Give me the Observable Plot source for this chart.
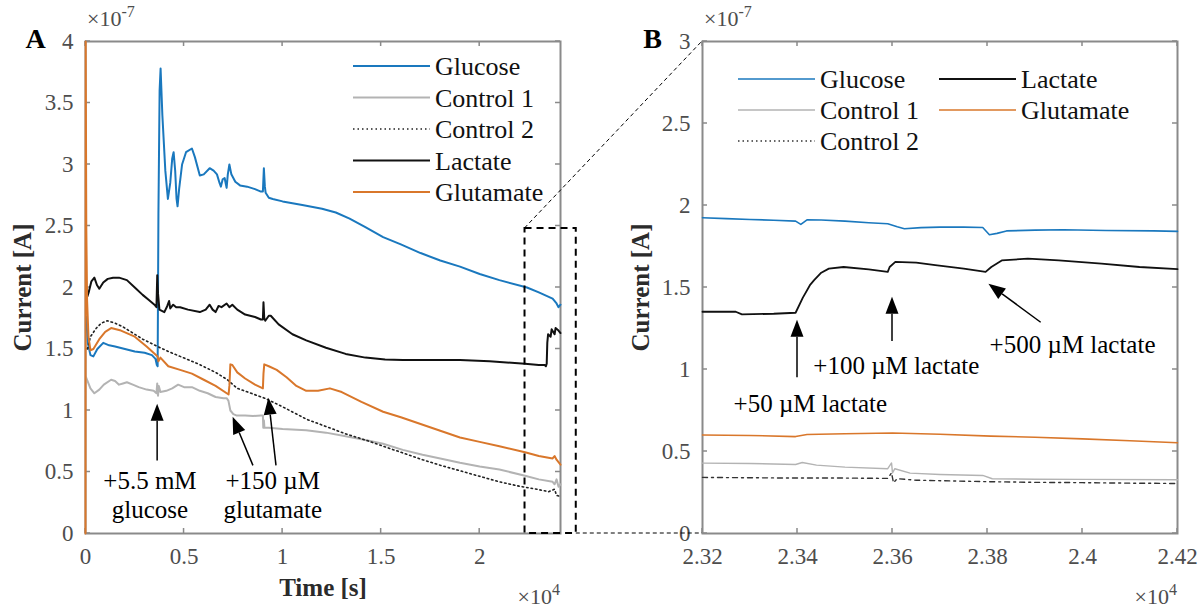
<!DOCTYPE html>
<html><head><meta charset="utf-8">
<script src="https://cdn.jsdelivr.net/npm/d3@7"></script>
<script src="https://cdn.jsdelivr.net/npm/@observablehq/plot@0.6"></script>
<style>
html,body{margin:0;padding:0;background:#fff;}
#wrap{position:relative;width:1199px;height:611px;overflow:hidden;background:#fff;}
#wrap > svg{position:absolute;top:0;}
#wrap svg text{font-family:"Liberation Serif",serif;}
</style></head><body><div id="wrap"></div>
<script>
// ---------- DATA (time in ×10^4 s, current in ×10^-7 A) ----------
const seriesNames = ["Glucose", "Control 1", "Control 2", "Lactate", "Glutamate"];

const glucoseA = [[0.003,1.76],[0.012,1.55],[0.025,1.45],[0.04,1.44],[0.06,1.5],[0.09,1.55],[0.12,1.53],[0.15,1.52],[0.2,1.5],[0.25,1.48],[0.3,1.47],[0.337,1.45],[0.355,1.42],[0.362,1.37],[0.366,1.36],[0.37,2.6],[0.376,3.6],[0.381,3.78],[0.39,3.4],[0.405,2.95],[0.418,2.72],[0.43,2.85],[0.44,3.05],[0.447,3.10],[0.455,2.95],[0.462,2.72],[0.467,2.66],[0.475,2.8],[0.49,3.0],[0.51,3.1],[0.54,3.13],[0.555,3.06],[0.58,2.91],[0.6,2.92],[0.63,2.97],[0.65,2.95],[0.667,2.92],[0.68,2.85],[0.687,2.82],[0.696,2.88],[0.706,2.89],[0.712,2.84],[0.716,2.81],[0.722,2.92],[0.73,3.0],[0.74,2.92],[0.76,2.86],[0.784,2.83],[0.82,2.82],[0.86,2.8],[0.89,2.78],[0.9,2.78],[0.905,2.97],[0.91,2.82],[0.914,2.77],[0.93,2.73],[0.95,2.72],[1.0,2.70],[1.1,2.67],[1.2,2.64],[1.27,2.61],[1.34,2.56],[1.42,2.49],[1.51,2.41],[1.6,2.35],[1.7,2.28],[1.8,2.22],[1.9,2.17],[2.0,2.11],[2.1,2.06],[2.24,2.0],[2.3,1.96],[2.37,1.91],[2.39,1.87],[2.4,1.84],[2.41,1.86]];
const control1A = [[0.003,1.27],[0.01,1.24],[0.025,1.18],[0.045,1.14],[0.07,1.17],[0.093,1.21],[0.13,1.25],[0.15,1.24],[0.17,1.21],[0.19,1.22],[0.21,1.23],[0.24,1.21],[0.27,1.19],[0.31,1.17],[0.346,1.16],[0.36,1.14],[0.364,1.22],[0.368,1.12],[0.372,1.2],[0.38,1.15],[0.41,1.16],[0.44,1.18],[0.47,1.21],[0.5,1.19],[0.54,1.19],[0.58,1.16],[0.62,1.14],[0.66,1.11],[0.7,1.1],[0.716,1.1],[0.725,1.08],[0.735,1.0],[0.75,0.97],[0.765,0.96],[0.81,0.96],[0.85,0.955],[0.89,0.96],[0.9,0.96],[0.902,0.86],[0.905,0.92],[0.908,0.86],[0.93,0.86],[1.0,0.85],[1.12,0.84],[1.22,0.82],[1.32,0.79],[1.42,0.76],[1.51,0.73],[1.61,0.68],[1.71,0.64],[1.8,0.61],[1.9,0.575],[2.0,0.545],[2.1,0.52],[2.23,0.47],[2.3,0.44],[2.37,0.42],[2.38,0.40],[2.39,0.44],[2.4,0.38],[2.41,0.4]];
const control2A = [[0.01,1.5],[0.025,1.6],[0.055,1.67],[0.08,1.71],[0.11,1.73],[0.15,1.71],[0.19,1.68],[0.24,1.63],[0.29,1.58],[0.366,1.52],[0.42,1.48],[0.48,1.44],[0.57,1.38],[0.66,1.31],[0.72,1.25],[0.77,1.18],[0.84,1.14],[0.91,1.10],[1.0,1.03],[1.12,0.93],[1.22,0.87],[1.32,0.81],[1.42,0.76],[1.51,0.71],[1.61,0.655],[1.71,0.60],[1.8,0.555],[1.9,0.51],[2.0,0.465],[2.1,0.42],[2.2,0.385],[2.29,0.36],[2.35,0.34],[2.38,0.36],[2.39,0.31],[2.41,0.30]];
const lactateA = [[0.003,2.0],[0.01,1.93],[0.016,1.96],[0.03,2.05],[0.045,2.08],[0.058,2.02],[0.07,1.99],[0.09,2.04],[0.113,2.07],[0.14,2.08],[0.17,2.08],[0.21,2.06],[0.25,2.0],[0.29,1.94],[0.32,1.9],[0.35,1.86],[0.36,1.84],[0.364,2.1],[0.368,1.95],[0.375,1.82],[0.4,1.8],[0.415,1.85],[0.424,1.89],[0.43,1.83],[0.445,1.86],[0.46,1.84],[0.48,1.84],[0.52,1.82],[0.58,1.80],[0.61,1.82],[0.63,1.86],[0.645,1.82],[0.66,1.80],[0.675,1.85],[0.69,1.84],[0.716,1.87],[0.73,1.84],[0.745,1.86],[0.77,1.82],[0.81,1.78],[0.86,1.76],[0.89,1.74],[0.9,1.74],[0.903,1.88],[0.907,1.75],[0.912,1.73],[0.93,1.77],[0.94,1.77],[0.98,1.70],[1.05,1.62],[1.12,1.57],[1.22,1.51],[1.32,1.46],[1.42,1.43],[1.52,1.415],[1.61,1.41],[1.75,1.41],[1.9,1.41],[2.05,1.40],[2.23,1.38],[2.3,1.37],[2.33,1.37],[2.336,1.36],[2.34,1.38],[2.343,1.55],[2.347,1.62],[2.36,1.60],[2.365,1.66],[2.38,1.62],[2.385,1.67],[2.4,1.65],[2.41,1.63]];
const glutamateA = [[0,0],[0.001,4.0],[0.004,2.5],[0.008,1.9],[0.015,1.6],[0.025,1.49],[0.04,1.5],[0.07,1.58],[0.1,1.64],[0.13,1.67],[0.18,1.65],[0.25,1.60],[0.31,1.52],[0.366,1.44],[0.37,1.40],[0.38,1.43],[0.42,1.36],[0.48,1.33],[0.54,1.30],[0.6,1.25],[0.66,1.2],[0.726,1.13],[0.73,1.2],[0.735,1.375],[0.745,1.37],[0.77,1.31],[0.81,1.26],[0.86,1.21],[0.90,1.18],[0.903,1.3],[0.907,1.375],[0.93,1.36],[0.97,1.33],[1.02,1.27],[1.07,1.2],[1.12,1.16],[1.18,1.16],[1.24,1.18],[1.3,1.15],[1.4,1.07],[1.51,0.99],[1.6,0.945],[1.7,0.89],[1.8,0.835],[1.9,0.78],[2.0,0.745],[2.1,0.71],[2.23,0.66],[2.3,0.63],[2.37,0.61],[2.38,0.63],[2.39,0.6],[2.41,0.56]];

const glucoseB = [[2.32,1.925],[2.325,1.92],[2.33,1.915],[2.335,1.91],[2.3396,1.905],[2.3407,1.885],[2.342,1.913],[2.345,1.912],[2.35,1.905],[2.355,1.895],[2.359,1.889],[2.361,1.87],[2.3625,1.858],[2.366,1.865],[2.37,1.868],[2.375,1.868],[2.379,1.866],[2.3804,1.822],[2.382,1.83],[2.384,1.845],[2.39,1.85],[2.396,1.852],[2.405,1.848],[2.415,1.845],[2.42,1.842]];
const control1B = [[2.32,0.429],[2.33,0.427],[2.3396,0.421],[2.341,0.433],[2.344,0.417],[2.35,0.405],[2.359,0.395],[2.3598,0.43],[2.360,0.37],[2.3605,0.395],[2.3637,0.368],[2.37,0.36],[2.379,0.354],[2.381,0.334],[2.39,0.331],[2.40,0.33],[2.42,0.328]];
const control2B = [[2.32,0.342],[2.33,0.340],[2.34,0.338],[2.35,0.338],[2.359,0.336],[2.3598,0.37],[2.3602,0.31],[2.361,0.334],[2.365,0.325],[2.37,0.322],[2.38,0.316],[2.39,0.312],[2.40,0.31],[2.41,0.307],[2.42,0.305]];
const lactateB = [[2.32,1.352],[2.327,1.352],[2.3283,1.336],[2.335,1.34],[2.3396,1.346],[2.3411,1.437],[2.3427,1.518],[2.3435,1.545],[2.345,1.59],[2.3466,1.615],[2.3497,1.625],[2.355,1.61],[2.359,1.595],[2.3594,1.625],[2.3606,1.656],[2.365,1.652],[2.369,1.636],[2.375,1.615],[2.3796,1.595],[2.3808,1.625],[2.383,1.665],[2.3885,1.676],[2.395,1.665],[2.404,1.645],[2.412,1.625],[2.42,1.612]];
const glutamateB = [[2.32,0.601],[2.33,0.598],[2.3396,0.591],[2.342,0.604],[2.35,0.608],[2.36,0.613],[2.37,0.605],[2.3807,0.594],[2.39,0.587],[2.40,0.577],[2.41,0.566],[2.42,0.553]];

const xTicksA = [0, 0.5, 1, 1.5, 2];
const yTicksA = [0, 0.5, 1, 1.5, 2, 2.5, 3, 3.5, 4];
const xTicksB = [2.32, 2.34, 2.36, 2.38, 2.4, 2.42];
const yTicksB = [0, 0.5, 1, 1.5, 2, 2.5, 3];

const notesA = [{t:0.327, i:0.425, label:"+5.5 mM"}, {t:0.327, i:0.19, label:"glucose"}, {t:0.95, i:0.425, label:"+150 µM"}, {t:0.95, i:0.19, label:"glutamate"}];
const arrowsA = [{x1:0.366, y1:0.59, x2:0.366, y2:1.05}, {x1:0.852, y1:0.55, x2:0.749, y2:0.945}, {x1:0.969, y1:0.55, x2:0.93, y2:1.10}];
const notesB = [{t:2.3427, i:0.79, label:"+50 µM lactate"}, {t:2.3608, i:1.02, label:"+100 µM lactate"}, {t:2.3979, i:1.15, label:"+500 µM lactate"}];
const arrowsB = [{x1:2.34, y1:0.95, x2:2.34, y2:1.30}, {x1:2.36, y1:1.17, x2:2.36, y2:1.44}, {x1:2.3913, y1:1.285, x2:2.3803, y2:1.52}];
const zoomBox = [{x1:2.23, x2:2.49, y1:0, y2:2.48}];

// ---------- STYLES ----------
const serif = "Liberation Serif";
const frameColor = "#8a8a8a", tickColor = "#4d4d4d", labelColor = "#2b2b2b";
const stylesA = {
  "Glucose": {color:"#1a78be", width:2, dash:null},
  "Control 1": {color:"#b3b3b3", width:2, dash:null},
  "Control 2": {color:"#222", width:1.6, dash:"1.5,3"},
  "Lactate": {color:"#111", width:2, dash:null},
  "Glutamate": {color:"#d9772b", width:2, dash:null}
};
const stylesB = {
  "Glucose": {color:"#1a78be", width:1.6, dash:null},
  "Control 1": {color:"#b3b3b3", width:1.4, dash:null},
  "Control 2": {color:"#333", width:1.4, dash:"5,4,2,4"},
  "Lactate": {color:"#111", width:1.8, dash:null},
  "Glutamate": {color:"#d9772b", width:1.6, dash:null}
};
const legendStylesB = {...stylesB, "Control 2": {color:"#333", width:1.4, dash:"1.5,3"}};

function lineMarks(series, styles) {
  return seriesNames.map(n => Plot.line(series[n].map(([t, i]) => ({t, i})), {
    x: "t", y: "i", stroke: styles[n].color, strokeWidth: styles[n].width,
    strokeDasharray: styles[n].dash || undefined, strokeLinejoin: "round"
  }));
}

function innerTicks(xt, yt, len) {
  return (index, scales, values, dim) => {
    const {width, height, marginTop, marginRight, marginBottom, marginLeft} = dim;
    const g = d3.create("svg:g").attr("stroke", frameColor).attr("stroke-width", 1.5);
    const top = marginTop, bot = height - marginBottom, l = marginLeft, r = width - marginRight;
    for (const t of xt) {
      const px = scales.x(t);
      g.append("line").attr("x1", px).attr("x2", px).attr("y1", bot).attr("y2", bot - len);
      g.append("line").attr("x1", px).attr("x2", px).attr("y1", top).attr("y2", top + len);
    }
    for (const v of yt) {
      const py = scales.y(v);
      g.append("line").attr("y1", py).attr("y2", py).attr("x1", l).attr("x2", l + len);
      g.append("line").attr("y1", py).attr("y2", py).attr("x1", r).attr("x2", r - len);
    }
    return g.node();
  };
}

function filledArrows(list, headLen = 17, headHalf = 6.5) {
  return (index, scales) => {
    const g = d3.create("svg:g");
    for (const a of list) {
      const x1 = scales.x(a.x1), y1 = scales.y(a.y1), x2 = scales.x(a.x2), y2 = scales.y(a.y2);
      const L = Math.hypot(x2 - x1, y2 - y1), ux = (x2 - x1) / L, uy = (y2 - y1) / L;
      const bx = x2 - ux * headLen, by = y2 - uy * headLen;
      g.append("line").attr("x1", x1).attr("y1", y1).attr("x2", bx).attr("y2", by)
        .attr("stroke", "#000").attr("stroke-width", 1.5);
      g.append("path").attr("fill", "#000")
        .attr("d", `M${x2},${y2}L${bx - uy * headHalf},${by + ux * headHalf}L${bx + uy * headHalf},${by - ux * headHalf}Z`);
    }
    return g.node();
  };
}

function legendMark(styles, cfg) {
  return (index, scales, values, dim) => {
    const g = d3.create("svg:g").attr("font-family", serif).attr("font-size", 26).attr("text-anchor", "start");
    const left = cfg.anchor === "right" ? dim.width - dim.marginRight + cfg.dx : dim.marginLeft + cfg.dx;
    const top = dim.marginTop + cfg.dy;
    seriesNames.forEach((n, k) => {
      const col = Math.floor(k / cfg.rows), row = k % cfg.rows;
      const x = left + col * cfg.colStep, y = top + row * cfg.rowStep;
      const s = styles[n];
      g.append("line").attr("x1", x).attr("x2", x + cfg.lineLen).attr("y1", y).attr("y2", y)
        .attr("stroke", s.color).attr("stroke-width", s.width).attr("stroke-dasharray", s.dash);
      g.append("text").attr("x", x + cfg.lineLen + 5).attr("y", y).attr("dy", "0.35em")
        .attr("text-anchor", "start").attr("fill", "#111").text(n);
    });
    return g.node();
  };
}

function expLabel(base, exp, where) {
  return (index, scales, values, dim) => {
    const t = d3.create("svg:text").attr("font-family", serif).attr("font-size", 22).attr("fill", tickColor);
    if (where === "top") {
      t.attr("x", dim.marginLeft + 2).attr("y", dim.marginTop - 15).attr("text-anchor", "start");
    } else {
      t.attr("x", dim.width - dim.marginRight).attr("y", dim.height - dim.marginBottom + 71).attr("text-anchor", "end");
    }
    t.append("tspan").text(base);
    t.append("tspan").attr("dy", -9).attr("font-size", 16).text(exp);
    return t.node();
  };
}

const fmt = d => String(d);

const plotA = Plot.plot({
  width: 600, height: 611,
  marginLeft: 85, marginRight: 40, marginTop: 41, marginBottom: 78,
  style: {fontFamily: serif, fontSize: "23px", background: "transparent", overflow: "visible"},
  x: {domain: [0, 2.41]},
  y: {domain: [0, 4]},
  marks: [
    Plot.frame({stroke: frameColor, strokeWidth: 2}),
    innerTicks(xTicksA, yTicksA, 5),
    Plot.axisX({anchor: "bottom", ticks: xTicksA, tickSize: 0, tickPadding: 14, fontSize: 23, fontVariant: "normal", fill: tickColor, label: null, tickFormat: fmt}),
    Plot.axisY({anchor: "left", ticks: yTicksA, tickSize: 0, tickPadding: 12, fontSize: 23, fontVariant: "normal", fill: tickColor, label: null, tickFormat: fmt}),
    ...lineMarks({"Glucose": glucoseA, "Control 1": control1A, "Control 2": control2A, "Lactate": lactateA, "Glutamate": glutamateA}, stylesA),
    Plot.rect(zoomBox, {x1: "x1", x2: "x2", y1: "y1", y2: "y2", fill: "none", stroke: "#000", strokeWidth: 2, strokeDasharray: "7,5"}),
    Plot.text(notesA, {x: "t", y: "i", text: "label", fontSize: 25, fill: "#000", fontFamily: serif}),
    filledArrows(arrowsA),
    legendMark(stylesA, {anchor: "right", dx: -207, dy: 25, rows: 5, rowStep: 31.5, colStep: 0, lineLen: 77}),
    Plot.text(["Time [s]"], {text: d => d, frameAnchor: "bottom", dy: 62, fontSize: 25, fontWeight: "bold", fill: labelColor}),
    Plot.text(["Current [A]"], {text: d => d, frameAnchor: "left", dx: -63, rotate: -90, textAnchor: "middle", fontSize: 25, fontWeight: "bold", fill: labelColor}),
    Plot.text(["A"], {text: d => d, frameAnchor: "top-left", dx: -50, dy: -13, textAnchor: "middle", fontSize: 28, fontWeight: "bold", fill: "#000"}),
    expLabel("×10", "-7", "top"),
    expLabel("×10", "4", "bottom")
  ]
});

const plotB = Plot.plot({
  width: 599, height: 611,
  marginLeft: 102, marginRight: 22, marginTop: 41, marginBottom: 78,
  style: {fontFamily: serif, fontSize: "23px", background: "transparent", overflow: "visible"},
  x: {domain: [2.32, 2.42]},
  y: {domain: [0, 3]},
  marks: [
    Plot.frame({stroke: frameColor, strokeWidth: 2}),
    innerTicks(xTicksB, yTicksB, 5),
    Plot.axisX({anchor: "bottom", ticks: xTicksB, tickSize: 0, tickPadding: 14, fontSize: 23, fontVariant: "normal", fill: tickColor, label: null, tickFormat: fmt}),
    Plot.axisY({anchor: "left", ticks: yTicksB, tickSize: 0, tickPadding: 12, fontSize: 23, fontVariant: "normal", fill: tickColor, label: null, tickFormat: fmt}),
    ...lineMarks({"Glucose": glucoseB, "Control 1": control1B, "Control 2": control2B, "Lactate": lactateB, "Glutamate": glutamateB}, stylesB),
    Plot.text(notesB, {x: "t", y: "i", text: "label", fontSize: 25, fill: "#000", fontFamily: serif}),
    filledArrows(arrowsB),
    legendMark(legendStylesB, {anchor: "left", dx: 36, dy: 38, rows: 3, rowStep: 31, colStep: 201, lineLen: 77}),
    Plot.text(["Current [A]"], {text: d => d, frameAnchor: "left", dx: -62, rotate: -90, textAnchor: "middle", fontSize: 25, fontWeight: "bold", fill: labelColor}),
    Plot.text(["B"], {text: d => d, frameAnchor: "top-left", dx: -50, dy: -13, textAnchor: "middle", fontSize: 28, fontWeight: "bold", fill: "#000"}),
    expLabel("×10", "-7", "top"),
    expLabel("×10", "4", "bottom")
  ]
});

const wrap = document.getElementById("wrap");
plotA.style.left = "0px";
plotB.style.left = "600px";
wrap.appendChild(plotA);
wrap.appendChild(plotB);

// connector lines between zoom box (panel A) and panel B, positioned through both plots' scales
const sxA = plotA.scale("x"), syA = plotA.scale("y"), sxB = plotB.scale("x"), syB = plotB.scale("y");
const fxA = d3.scaleLinear(sxA.domain, sxA.range), fyA = d3.scaleLinear(syA.domain, syA.range);
const fxB = d3.scaleLinear(sxB.domain, sxB.range), fyB = d3.scaleLinear(syB.domain, syB.range);
const box = zoomBox[0];
const overlay = d3.create("svg").attr("width", 1199).attr("height", 611)
  .style("position", "absolute").style("left", "0px").style("top", "0px").style("pointer-events", "none");
overlay.append("line")
  .attr("x1", fxA(box.x1)).attr("y1", fyA(box.y2))
  .attr("x2", 600 + fxB(sxB.domain[0])).attr("y2", fyB(syB.domain[1]))
  .attr("stroke", "#000").attr("stroke-width", 1).attr("stroke-dasharray", "4,3");
overlay.append("line")
  .attr("x1", fxA(box.x2)).attr("y1", fyA(box.y1))
  .attr("x2", 600 + fxB(sxB.domain[0])).attr("y2", fyB(syB.domain[0]))
  .attr("stroke", "#000").attr("stroke-width", 1).attr("stroke-dasharray", "4,3");
wrap.appendChild(overlay.node());
</script></body></html>
